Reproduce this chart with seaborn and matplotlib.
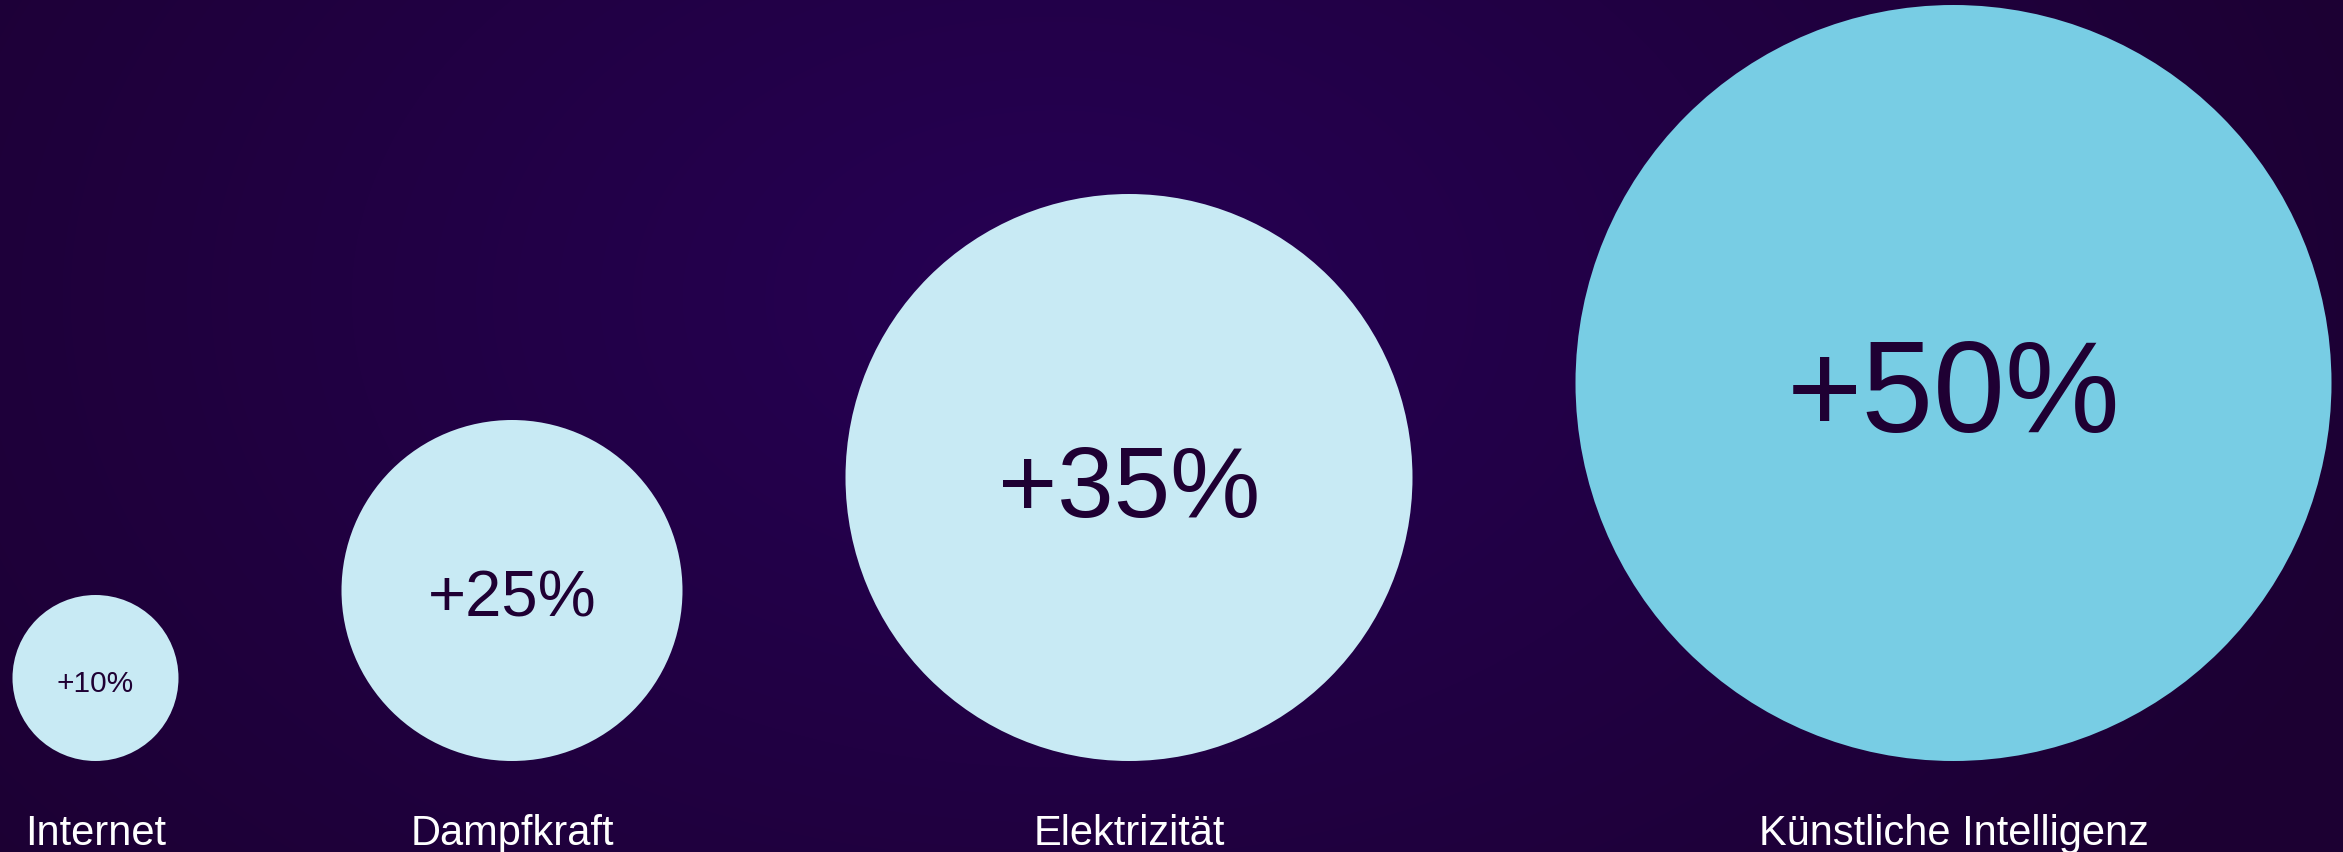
import numpy as np
import pandas as pd
import matplotlib.pyplot as plt
import seaborn as sns

# data
categories = ["Internet", "Dampfkraft", "Elektrizität", "Künstliche Intelligenz"]
growth = [10, 25, 35, 50]
value_labels = [f"+{v}%" for v in growth]

# style: bubble radius (layout units = pixels), value font size (pt), colour
bubble_radius = {"Internet": 83, "Dampfkraft": 170.5, "Elektrizität": 283.5,
                 "Künstliche Intelligenz": 378}
value_fontsize = {"Internet": 21.5, "Dampfkraft": 47, "Elektrizität": 73,
                  "Künstliche Intelligenz": 93}
bubble_color = {"Internet": "#c8eaf4", "Dampfkraft": "#c8eaf4",
                "Elektrizität": "#c8eaf4", "Künstliche Intelligenz": "#78cde4"}

W, H, DPI = 2343, 853, 100
left_margin = 12.5
gap = 163
baseline_y = 762

sns.set_style("white")
plt.rcParams["font.family"] = ["Liberation Sans", "DejaVu Sans"]

# layout: bubbles side by side, bottom aligned, equal gaps
df = pd.DataFrame({"category": categories, "growth": growth, "label": value_labels})
df["r"] = df["category"].map(bubble_radius)
x_left = left_margin + np.concatenate([[0], np.cumsum(2 * df["r"].values[:-1] + gap)])
df["x"] = x_left + df["r"]
df["y"] = baseline_y - df["r"]

fig = plt.figure(figsize=(W / DPI, H / DPI), dpi=DPI)
ax = fig.add_axes([0, 0, 1, 1])

# radial background gradient
yy, xx = np.mgrid[0:H, 0:W]
d = np.sqrt(((xx - W * 0.45) / (W * 0.6)) ** 2 + ((yy - H * 0.35) / (H * 1.1)) ** 2)
d = np.clip(d, 0, 1)[..., None]
c_in = np.array([0x26, 0x00, 0x54]) / 255
c_out = np.array([0x1c, 0x00, 0x32]) / 255
bg = c_in * (1 - d) + c_out * d
ax.imshow(bg, extent=(0, W, H, 0), zorder=0, aspect="auto")

pt_per_px = 72 / DPI
sizes = {c: (2 * r * pt_per_px) ** 2 for c, r in bubble_radius.items()}
sns.scatterplot(data=df, x="x", y="y", hue="category", palette=bubble_color,
                size="category", sizes=sizes, linewidth=0, legend=False,
                ax=ax, zorder=2)

for _, row in df.iterrows():
    fs = value_fontsize[row["category"]]
    cap = 0.716 * fs / pt_per_px
    ax.text(row["x"], row["y"] + cap / 2 + 2, row["label"], ha="center",
            va="baseline", fontsize=fs, color="#1f0033", zorder=3)
    ax.text(row["x"], 845, row["category"], ha="center", va="baseline",
            fontsize=30, color="white", zorder=3)

ax.set_xlim(0, W)
ax.set_ylim(H, 0)
ax.set_axis_off()

fig.savefig("out.png", dpi=DPI)
